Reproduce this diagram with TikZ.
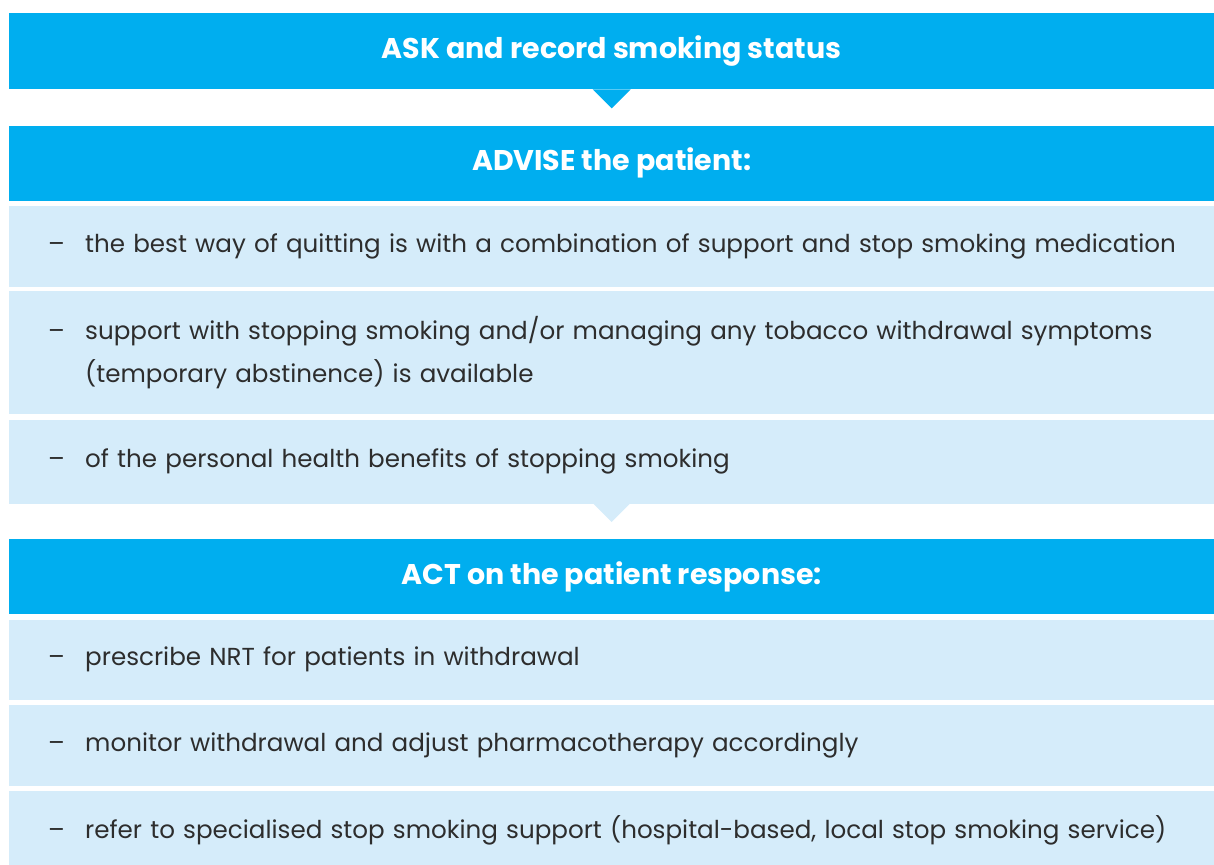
\documentclass[tikz,border=0pt]{standalone}
\usepackage{fontspec}
\setmainfont{Poppins}
\usetikzlibrary{positioning}

\definecolor{askblue}{HTML}{00AEEF}
\definecolor{pointblue}{HTML}{D5ECFA}
\definecolor{pointtext}{HTML}{2D2D2D}

\newcommand{\pointdash}{\hspace*{16.5pt}\makebox[37pt][l]{--}}

\begin{document}
\begin{tikzpicture}[x=1pt,y=-1pt,
    stagehead/.style={fill=askblue, text=white, inner sep=0pt,
        minimum width=1205pt, font=\fontsize{28.5}{34}\selectfont\bfseries},
    point/.style={fill=pointblue, text=pointtext, inner xsep=22.5pt, inner ysep=0pt,
        text width=1160pt, align=left, minimum width=1205pt,
        font=\fontsize{24.6}{43}\selectfont},
    node distance=5pt]
    \useasboundingbox (0,0) rectangle (1214,864);

    % ask
    \node[stagehead, minimum height=76pt, anchor=north west] (ask) at (9,13)
        {ASK and record smoking status};
    \fill[askblue] (ask.south) ++(-19,0) -- ++(38,0) -- ++(-19,19) -- cycle;

    % advise
    \node[stagehead, minimum height=75pt, below=36pt of ask] (advise)
        {ADVISE the patient:};
    \node[point, minimum height=81pt, below=of advise] (best)
        {\pointdash the best way of quitting is with a combination of support and stop smoking medication};
    \node[point, minimum height=123pt, below=4pt of best] (support)
        {\pointdash support with stopping smoking and/or managing any tobacco withdrawal symptoms\\
         \hspace*{53.5pt}(temporary abstinence) is available};
    \node[point, minimum height=84pt, below=of support] (benefits)
        {\pointdash of the personal health benefits of stopping smoking};
    \fill[pointblue] (benefits.south) ++(-18,0) -- ++(36,0) -- ++(-18,18) -- cycle;

    % act
    \node[stagehead, minimum height=75pt, below=35pt of benefits] (act)
        {ACT on the patient response:};
    \node[point, minimum height=80pt, below=of act] (nrt)
        {\pointdash prescribe NRT for patients in withdrawal};
    \node[point, minimum height=81pt, below=of nrt] (monitor)
        {\pointdash monitor withdrawal and adjust pharmacotherapy accordingly};
    \node[point, minimum height=78pt, below=of monitor] (refer)
        {\pointdash refer to specialised stop smoking support (hospital-based, local stop smoking service)};
\end{tikzpicture}
\end{document}
